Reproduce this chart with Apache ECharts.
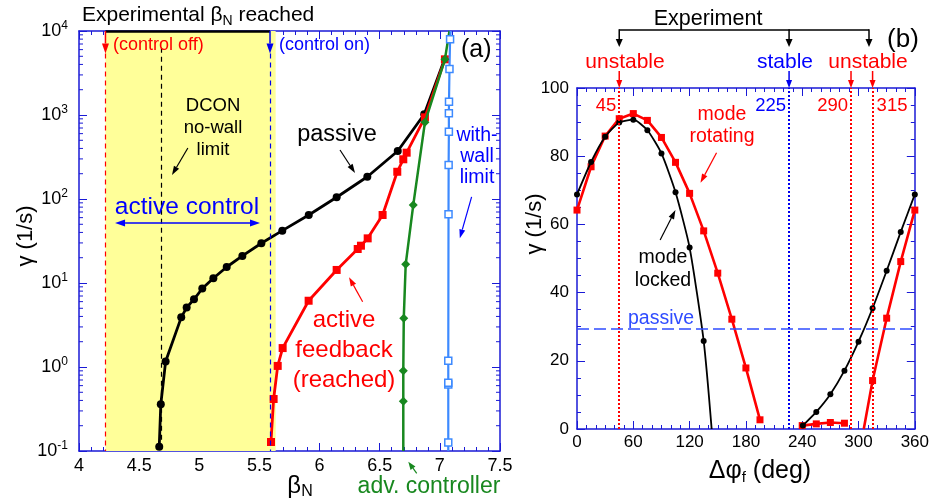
<!DOCTYPE html>
<html><head><meta charset="utf-8">
<script src="https://cdn.jsdelivr.net/npm/echarts@6/dist/echarts.min.js"></script>
<style>html,body{margin:0;padding:0;background:#fff}#c{width:932px;height:500px}</style>
</head><body><div id="c"></div>
<script>
// ---------------- Panel (a) data ----------------
const passiveBeta  = [4.667,4.68,4.72,4.85,4.895,4.956,5.025,5.117,5.228,5.358,5.516,5.69,5.91,6.142,6.397,6.65,6.87,7.04];
const passiveGamma = [0.112,0.36,1.16,3.9,5.1,6.4,8.6,11.4,15.5,21,29.7,42,64.5,105,184,373,1020,4650];
const activeBeta   = [5.596,5.618,5.652,5.693,5.909,6.142,6.317,6.344,6.40,6.524,6.646,6.696,6.724,6.876,7.042];
const activeGamma  = [0.128,0.416,1.03,1.68,6.15,14.3,25.4,27.8,34,64.5,211,297,356,938,4600];
const advBeta      = [6.696,6.696,6.696,6.70,6.716,6.779,6.876,7.042,7.08];
const advGamma     = [0.1,0.39,0.9,3.8,16.7,85,819,4600,10000];
const wallBeta     = [7.07,7.07,7.07,7.07,7.07,7.072,7.073,7.075,7.075,7.076,7.08,7.085,7.09];
const wallGamma    = [0.1,0.126,0.62,0.65,1.19,66,254,632,1050,1440,3530,7960,10000];
const bandA        = [4.22,5.635];          // experimental beta_N range (yellow)
const ctrlOffBeta  = 4.22, ctrlOnBeta = 5.588, dconBeta = 4.684;
const yExpLabels   = ['-1','0','1','2','3','4'];

// ---------------- Panel (b) data ----------------
const rotLeftPhi   = [0,15,30,45,60,75,90,105,120,135,150,165,180,195];
const rotLeftGamma = [64.2,76.9,85.9,91,92.5,90.5,85.5,78.2,69.1,58.1,45.7,32.2,17.9,2.7];
const rotMidPhi    = [240,255,270,285];
const rotMidGamma  = [1.0,1.5,1.9,1.7];
const rotRightPhi  = [305.6,315,330,345,360];
const rotRightGamma= [0,14.2,32.5,49.1,64.2];
const lockLeftPhi  = [0,15,30,45,60,75,90,105,120,135,143.5];
const lockLeftGamma= [68.8,78.3,85.7,89.9,90.7,87.6,80.8,69.4,53.2,25.8,0];
const lockRightPhi = [240.7,255,270,285,300,315,330,345,360];
const lockRightGamma=[1.0,5,10.2,17.1,25.6,35.4,46.4,57.8,68.8];
const vlinePhi     = [45,226,292,315];
const vlineLabels  = ['45','225','290','315'];
const passiveLevelB= 29.3;

const FF = 'Liberation Sans, Arial, Helvetica, sans-serif';
const AX = '#1a1ad6';
const RED = '#ff0000', BLUE = '#0000ff', GREEN = '#18881f', LBLUE = '#3d8aff', YEL = '#ffff99';

const zip = (a,b) => a.map((v,i)=>[v,b[i]]);
const chart = echarts.init(document.getElementById('c'));

function xAx(grid, min, max, interval, split, pos, showLabel, fs, margin){
  return {gridIndex:grid, type:'value', min, max, interval, position:pos,
    axisLine:{show:true, onZero:false, lineStyle:{color:AX, width:1.5}},
    axisTick:{show:true, inside:true, length:8, lineStyle:{color:AX, width:1}},
    minorTick:{show:true, splitNumber:split, length:4, lineStyle:{color:AX, width:1}},
    splitLine:{show:false}, minorSplitLine:{show:false},
    axisLabel:{show:showLabel, color:'#000', fontSize:fs, fontFamily:FF, margin}};
}
const logMinor = [];
for (let k=-1;k<=3;k++) for (let m=2;m<=9;m++) logMinor.push([4, m*Math.pow(10,k)]);

const noMark = (idxs, sym) => (v, p) => idxs.includes(p.dataIndex) ? 'none' : sym;

const option = {
  animation:false,
  grid:[{left:79, top:31, width:421, height:420},{left:577, top:88, width:343, height:341}],
  xAxis:[
    xAx(0,4,7.5,0.5,5,'bottom',true,18,6),
    xAx(0,4,7.5,0.5,5,'top',false,18,6),
    xAx(1,0,360,60,6,'bottom',true,17,5),
    xAx(1,0,360,60,6,'top',false,17,5)
  ],
  yAxis:[
    {gridIndex:0, type:'log', logBase:10, min:0.1, max:10000, position:'left',
     axisLine:{show:true, lineStyle:{color:AX, width:1.5}},
     axisTick:{inside:true, length:8, lineStyle:{color:AX}}, splitLine:{show:false},
     axisLabel:{color:'#000', fontSize:18, fontFamily:FF, margin:11, lineHeight:22,
       formatter: v => '10{sup|' + yExpLabels[Math.round(Math.log10(v))+1] + '}',
       rich:{sup:{fontSize:12, fontFamily:FF, color:'#000', verticalAlign:'top', lineHeight:12}}}},
    {gridIndex:0, type:'log', logBase:10, min:0.1, max:10000, position:'right',
     axisLine:{show:true, lineStyle:{color:AX, width:1.5}},
     axisTick:{inside:true, length:8, lineStyle:{color:AX}}, splitLine:{show:false},
     axisLabel:{show:false}},
    {gridIndex:1, type:'value', min:0, max:100, interval:20, position:'left',
     axisLine:{show:true, onZero:false, lineStyle:{color:AX, width:1.5}},
     axisTick:{inside:true, length:8, lineStyle:{color:AX}},
     minorTick:{show:true, splitNumber:4, length:4, lineStyle:{color:AX}},
     splitLine:{show:false}, minorSplitLine:{show:false},
     axisLabel:{color:'#000', fontSize:17, fontFamily:FF, margin:8}},
    {gridIndex:1, type:'value', min:0, max:100, interval:20, position:'right',
     axisLine:{show:true, onZero:false, lineStyle:{color:AX, width:1.5}},
     axisTick:{inside:true, length:8, lineStyle:{color:AX}},
     minorTick:{show:true, splitNumber:4, length:4, lineStyle:{color:AX}},
     splitLine:{show:false}, minorSplitLine:{show:false}, axisLabel:{show:false}}
  ],
  series:[
    // yellow band
    {type:'line', xAxisIndex:0, yAxisIndex:0, data:[], z:1, silent:true,
     markArea:{silent:true, itemStyle:{color:YEL, opacity:1}, data:[[{xAxis:bandA[0]},{xAxis:bandA[1]}]]}},
    // reference lines in (a)
    {type:'line', xAxisIndex:0, yAxisIndex:0, data:[], z:2, silent:true,
     markLine:{silent:true, symbol:['none','none'], label:{show:false}, data:[
       [{coord:[ctrlOffBeta,5400], lineStyle:{color:RED, type:[5,4], width:1.2}},{coord:[ctrlOffBeta,0.1]}],
       [{coord:[dconBeta,6300], lineStyle:{color:'#000', type:[5,4], width:1.2}},{coord:[dconBeta,0.1]}],
       [{coord:[ctrlOnBeta,5400], lineStyle:{color:'#0000ee', type:[5,4], width:1.2}},{coord:[ctrlOnBeta,0.1]}],
       [{coord:[ctrlOffBeta,10000], lineStyle:{color:'#000', type:'solid', width:2.5}},{coord:[ctrlOnBeta,10000]}]
     ]}},
    // log minor ticks (a)
    {type:'custom', xAxisIndex:0, yAxisIndex:0, data:logMinor, silent:true, z:6,
     renderItem:(params, api) => {
       const y = api.coord([4, api.value(1)])[1];
       const cs = params.coordSys;
       return {type:'group', children:[
         {type:'line', shape:{x1:cs.x, y1:y, x2:cs.x+4, y2:y}, style:{stroke:AX, lineWidth:1}},
         {type:'line', shape:{x1:cs.x+cs.width-4, y1:y, x2:cs.x+cs.width, y2:y}, style:{stroke:AX, lineWidth:1}}
       ]};
     }},
    {name:'passive', type:'line', xAxisIndex:0, yAxisIndex:0, data:zip(passiveBeta,passiveGamma), z:3,
     symbol:noMark([passiveBeta.length-1],'circle'), symbolSize:8,
     lineStyle:{color:'#000', width:2.8}, itemStyle:{color:'#000'}},
    {name:'active', type:'line', xAxisIndex:0, yAxisIndex:0, data:zip(activeBeta,activeGamma), z:4,
     symbol:'rect', symbolSize:8, lineStyle:{color:RED, width:2.8}, itemStyle:{color:RED}},
    {name:'adv', type:'line', xAxisIndex:0, yAxisIndex:0, data:zip(advBeta,advGamma), z:5,
     symbol:noMark([0,advBeta.length-1],'diamond'), symbolSize:9, lineStyle:{color:GREEN, width:2.5}, itemStyle:{color:GREEN}},
    {name:'wall', type:'line', xAxisIndex:0, yAxisIndex:0, data:zip(wallBeta,wallGamma), z:5,
     symbol:noMark([0,wallBeta.length-1],'rect'), symbolSize:7, lineStyle:{color:LBLUE, width:2.2},
     itemStyle:{color:'#fff', borderColor:LBLUE, borderWidth:1.5}},

    // (b) reference lines
    {type:'line', xAxisIndex:2, yAxisIndex:2, data:[], z:2, silent:true,
     markLine:{silent:true, symbol:['none','none'], label:{show:false}, data:
       vlinePhi.map((p,i)=>[{coord:[p,0], lineStyle:{color: i===1 ? '#0000ee' : RED, type:[2,2], width:2}},{coord:[p,100]}])
       .concat([[{coord:[0,passiveLevelB], lineStyle:{color:'#2f4cff', type:[12,5], width:1.5}},{coord:[360,passiveLevelB]}]])
     }},
    {type:'line', xAxisIndex:2, yAxisIndex:2, data:zip(rotLeftPhi,rotLeftGamma), z:3,
     symbol:'rect', symbolSize:7, lineStyle:{color:RED, width:2.6}, itemStyle:{color:RED}},
    {type:'line', xAxisIndex:2, yAxisIndex:2, data:zip(rotMidPhi,rotMidGamma), z:3,
     symbol:'rect', symbolSize:7, lineStyle:{color:RED, width:2.6}, itemStyle:{color:RED}},
    {type:'line', xAxisIndex:2, yAxisIndex:2, data:zip(rotRightPhi,rotRightGamma), z:3,
     symbol:noMark([0],'rect'), symbolSize:7, lineStyle:{color:RED, width:2.6}, itemStyle:{color:RED}},
    {type:'line', xAxisIndex:2, yAxisIndex:2, data:zip(lockLeftPhi,lockLeftGamma), z:4, smooth:0.2,
     symbol:noMark([lockLeftPhi.length-1],'circle'), symbolSize:6, lineStyle:{color:'#000', width:1.8}, itemStyle:{color:'#000'}},
    {type:'line', xAxisIndex:2, yAxisIndex:2, data:zip(lockRightPhi,lockRightGamma), z:4, smooth:0.2,
     symbol:'circle', symbolSize:6, lineStyle:{color:'#000', width:1.8}, itemStyle:{color:'#000'}}
  ]
};
chart.setOption(option);

// ---------------- annotations ----------------
function arrow(x1,y1,x2,y2,color,lw,hl,hw,both){
  const a = Math.atan2(y2-y1,x2-x1), c=Math.cos(a), s=Math.sin(a);
  const bx=x2-hl*c, by=y2-hl*s, px=-s*hw/2, py=c*hw/2;
  const out=[];
  let sx=x1, sy=y1;
  if (both){ sx=x1+hl*c; sy=y1+hl*s;
    out.push({type:'polygon', z:60, shape:{points:[[x1,y1],[sx+px,sy+py],[sx-px,sy-py]]}, style:{fill:color}}); }
  out.push({type:'line', z:60, shape:{x1:sx,y1:sy,x2:bx,y2:by}, style:{stroke:color, lineWidth:lw}});
  out.push({type:'polygon', z:60, shape:{points:[[x2,y2],[bx+px,by+py],[bx-px,by-py]]}, style:{fill:color}});
  return out;
}
function T(x,y,text,o){
  o=o||{};
  const st={text, fill:o.color||'#000', fontSize:o.size||18, fontFamily:FF,
    align:o.align||'center', verticalAlign:'middle', textAlign:o.align||'center', textVerticalAlign:'middle'};
  if(o.lh) st.lineHeight=o.lh;
  if(o.rich) st.rich=o.rich;
  const el={type:'text', x, y, z:70, style:st};
  if(o.rot) el.rotation=o.rot;
  return el;
}
const pA = v => chart.convertToPixel({xAxisIndex:0, yAxisIndex:0}, v);
const pB = v => chart.convertToPixel({xAxisIndex:2, yAxisIndex:2}, v);
const G=[];
const addA = (f,t,col,lw,hl,hw,both) => { const a=pA(f), b=pA(t); G.push(...arrow(a[0],a[1],b[0],b[1],col,lw,hl,hw,both)); };
addA([ctrlOffBeta,10000],[ctrlOffBeta,5400],RED,1.5,10,7);
addA([ctrlOnBeta,10000],[ctrlOnBeta,5400],'#0000ee',1.5,10,7);
addA([4.905,405],[4.773,193],'#000',1.2,9,6);
addA([6.17,383],[6.295,204],'#000',1.2,9,6);
addA([7.264,106],[7.166,34],BLUE,1.2,9,6);
addA([6.358,5.99],[6.245,11.7],RED,1.2,9,6);
addA([4.30,51.8],[5.505,51.8],BLUE,1.5,10,7,true);
G.push(...arrow(416.7,473.3,408.3,461.7,GREEN,1.2,8,6));
const addB = (f,t,col,lw,hl,hw) => { const a=pB(f), b=pB(t); G.push(...arrow(a[0],a[1],b[0],b[1],col,lw,hl,hw)); };
addB([148.7,81.0],[131.6,72.2],RED,1.2,9,6);
addB([88.6,55.4],[104.9,64.2],'#000',1.2,9,6);
// experiment bracket above (b)
const xL = pB([45,100])[0], xM = pB([226,100])[0], xR = 869;
G.push({type:'line', z:60, shape:{x1:xL,y1:30,x2:xR,y2:30}, style:{stroke:'#000', lineWidth:1.5}});
[xL,xM,xR].forEach(x=>G.push(...arrow(x,29.3,x,47,'#000',1.5,8,7)));
vlinePhi.forEach((p,i)=>{ const x=pB([p,100])[0]; G.push(...arrow(x,71,x,88,i===1?'#0000ee':RED,1.5,8,6)); });

const sub = {a:{fontSize:21, fontFamily:FF, fill:'#000', lineHeight:26}, s:{fontSize:14, fontFamily:FF, fill:'#000', verticalAlign:'bottom', lineHeight:13}};
G.push(T(82,15,'{a|Experimental β}{s|N}{a| reached}',{align:'left', rich:sub}));
G.push(T(113,45,'(control off)',{align:'left', color:RED, size:18}));
G.push(T(279,45,'(control on)',{align:'left', color:BLUE, size:18}));
G.push(T(461,50,'(a)',{align:'left', size:25}));
G.push(T(213,128,'DCON\nno-wall\nlimit',{size:18.5, lh:22}));
G.push(T(337,135,'passive',{size:23.5}));
G.push(T(187,207,'active control',{size:24.5, color:BLUE}));
G.push(T(477,157,'with-\nwall\nlimit',{size:19.5, lh:21, color:BLUE}));
G.push(T(344,350,'active\nfeedback\n(reached)',{size:24, lh:30, color:RED}));
G.push(T(429,487,'adv. controller',{size:23, color:GREEN}));
G.push(T(300,486,'{a|β}{s|N}',{rich:{a:{fontSize:24, fontFamily:FF, fill:'#000', lineHeight:28}, s:{fontSize:16, fontFamily:FF, fill:'#000', verticalAlign:'bottom', lineHeight:15}}}));
G.push(T(26,236,'γ (1/s)',{size:22, rot:Math.PI/2}));

G.push(T(708,19,'Experiment',{size:21.5}));
G.push(T(625,62,'unstable',{size:21, color:RED}));
G.push(T(785,62,'stable',{size:21, color:BLUE}));
G.push(T(868,62,'unstable',{size:21, color:RED}));
G.push(T(903,40,'(b)',{size:26}));
vlinePhi.forEach((p,i)=>{
  const x=pB([p,100])[0];
  if(i===3) G.push(T(x+4,106,vlineLabels[i],{align:'left', size:18.5, color:RED}));
  else G.push(T(x-3,106,vlineLabels[i],{align:'right', size:18.5, color: i===1?BLUE:RED}));
});
G.push(T(722,126,'mode\nrotating',{size:19.5, lh:22, color:RED}));
G.push(T(663,269.5,'mode\nlocked',{size:19.5, lh:23}));
G.push(T(628,319,'passive',{align:'left', size:19.5, color:'#2f4cff'}));
G.push(T(535,224,'γ (1/s)',{size:22, rot:Math.PI/2}));
G.push(T(760,471,'{a|Δφ}{s|f}{a| (deg)}',{rich:{a:{fontSize:25, fontFamily:FF, fill:'#000', lineHeight:28}, s:{fontSize:15, fontFamily:FF, fill:'#000', verticalAlign:'bottom', lineHeight:14}}}));

chart.setOption({graphic:G});
</script></body></html>
